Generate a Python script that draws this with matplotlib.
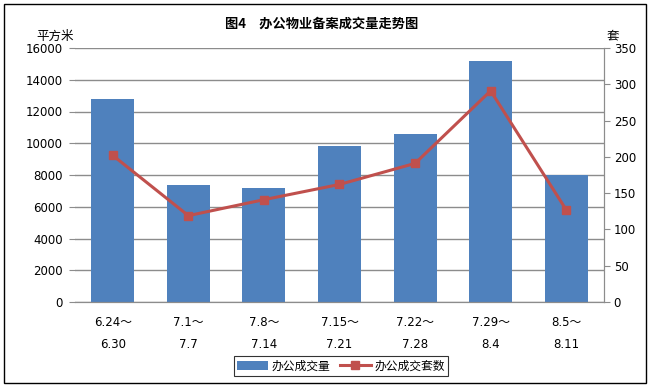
import matplotlib
matplotlib.use("Agg")
import matplotlib.pyplot as plt
import numpy as np

plt.rcParams["font.family"] = ["DejaVu Sans", "Noto Sans CJK SC"]

periods = ["6.24～\n6.30", "7.1～\n7.7", "7.8～\n7.14", "7.15～\n7.21",
           "7.22～\n7.28", "7.29～\n8.4", "8.5～\n8.11"]
area = [12800, 7400, 7200, 9850, 10600, 15150, 8000]
units = [202, 119, 141, 162, 191, 291, 127]

bar_color = "#4F81BD"
line_color = "#C0504D"
grid_color = "#8C8C8C"

fig = plt.figure(figsize=(6.51, 3.87), dpi=100)
ax = fig.add_axes([75 / 651, 1 - 302 / 387, 529 / 651, 254 / 387])
ax2 = ax.twinx()

x = np.arange(len(periods))
ax.bar(x, area, width=0.57, color=bar_color, zorder=2, label="办公成交量")
ax2.plot(x, units, color=line_color, lw=2.2, marker="s", ms=6,
         label="办公成交套数", zorder=3)

ax.set_xlim(-0.5, len(periods) - 0.5)
ax.set_ylim(0, 16000)
ax.set_yticks(np.arange(0, 16001, 2000))
ax2.set_ylim(0, 350)
ax2.set_yticks(np.arange(0, 351, 50))
ax.yaxis.grid(True, color=grid_color, lw=1)
ax.set_axisbelow(True)

ax.set_xticks(x)
ax.set_xticklabels(periods, fontsize=8.5, linespacing=1.9)
ax.tick_params(axis="x", length=0, pad=10)
ax.tick_params(axis="y", labelsize=8.5, length=4, color=grid_color, pad=5)
ax2.tick_params(axis="y", labelsize=8.5, length=4, color=grid_color, pad=3)

for a in (ax, ax2):
    for side in ("top", "left"):
        a.spines[side].set_visible(False)
    a.spines["bottom"].set_color(grid_color)
    a.spines["right"].set_color(grid_color)

fig.text(322 / 651, 1 - 24 / 387, "图4　办公物业备案成交量走势图",
         ha="center", va="center", fontsize=9.5, fontweight="bold",
         family=["Noto Sans CJK SC"])
fig.text(36 / 651, 1 - 36 / 387, "平方米", fontsize=9, va="center",
         family=["Noto Sans CJK SC"])
fig.text(607 / 651, 1 - 36 / 387, "套", fontsize=9, va="center",
         family=["Noto Sans CJK SC"])

h1, l1 = ax.get_legend_handles_labels()
h2, l2 = ax2.get_legend_handles_labels()
leg = fig.legend(h1 + h2, l1 + l2, loc="center", ncol=2,
                 bbox_to_anchor=(341 / 651, 1 - 366 / 387),
                 prop={"family": ["Noto Sans CJK SC"], "size": 8.5},
                 frameon=True, fancybox=False, edgecolor="black",
                 handlelength=2.6, columnspacing=0.8, handletextpad=0.3,
                 borderpad=0.3)
leg.get_frame().set_linewidth(0.8)

border = plt.Rectangle((4 / 651, 4 / 387), 642 / 651, 379 / 387,
                       transform=fig.transFigure, fill=False,
                       edgecolor="black", lw=1.0)
fig.patches.append(border)

fig.savefig("out.png", dpi=100)
